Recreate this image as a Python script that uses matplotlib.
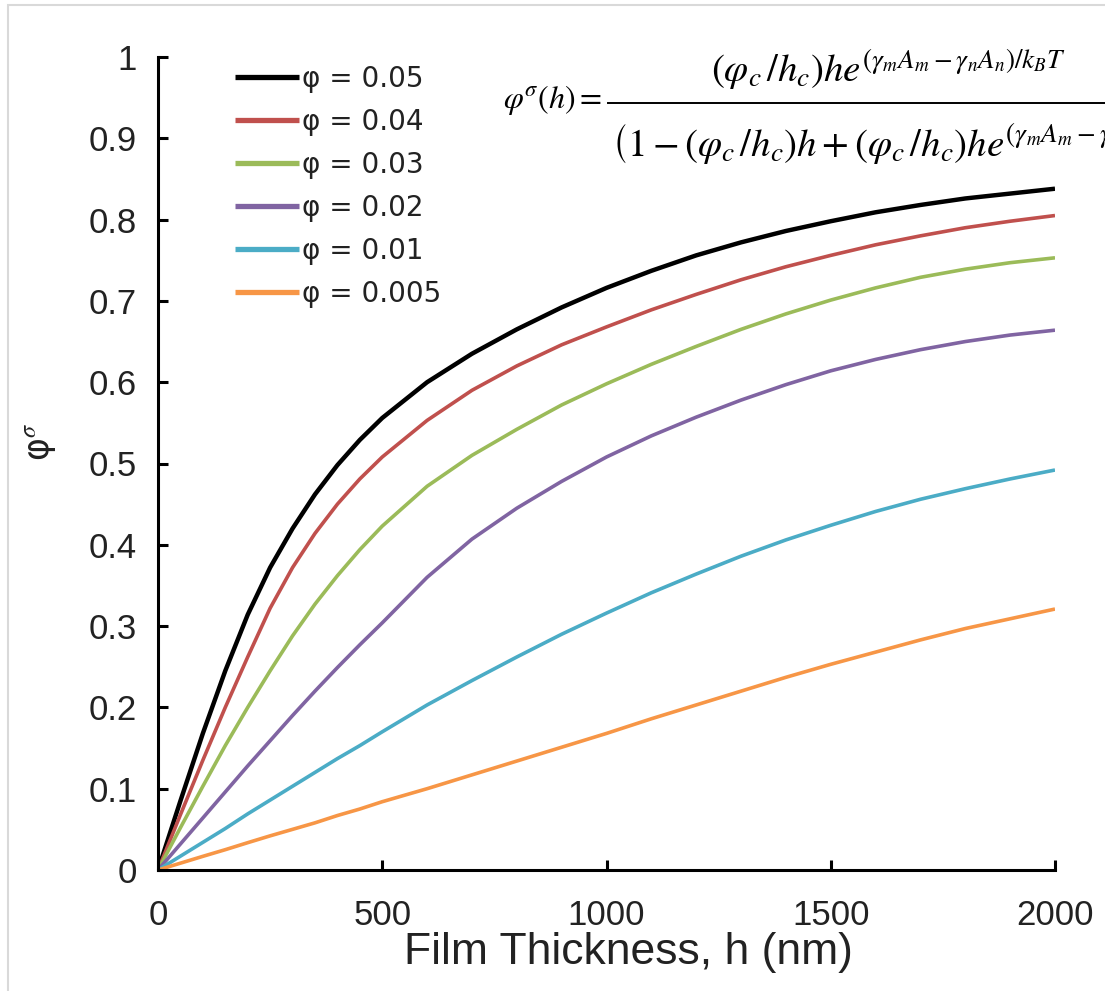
import matplotlib
matplotlib.use('Agg')
import matplotlib.pyplot as plt
from matplotlib.patches import Rectangle
from matplotlib.lines import Line2D

# ---- data ----
h = [0, 50, 100, 150, 200, 250, 300, 350, 400, 450, 500,
     600, 700, 800, 900, 1000, 1100, 1200, 1300, 1400, 1500, 1600, 1700, 1800, 1900, 2000]
phi_005 = [0, 0.085, 0.168, 0.245, 0.314, 0.372, 0.420, 0.462, 0.498, 0.529, 0.556,
           0.600, 0.635, 0.665, 0.692, 0.716, 0.737, 0.756, 0.772, 0.786, 0.798, 0.809, 0.818, 0.826, 0.832, 0.838]
phi_004 = [0, 0.068, 0.135, 0.200, 0.262, 0.322, 0.372, 0.414, 0.450, 0.481, 0.508,
           0.553, 0.590, 0.620, 0.646, 0.668, 0.689, 0.708, 0.726, 0.742, 0.756, 0.769, 0.780, 0.790, 0.798, 0.805]
phi_003 = [0, 0.052, 0.103, 0.153, 0.200, 0.245, 0.288, 0.327, 0.362, 0.394, 0.423,
           0.472, 0.510, 0.542, 0.572, 0.598, 0.622, 0.644, 0.665, 0.684, 0.701, 0.716, 0.729, 0.739, 0.747, 0.753]
phi_002 = [0, 0.032, 0.064, 0.096, 0.128, 0.159, 0.190, 0.220, 0.249, 0.277, 0.304,
           0.360, 0.407, 0.445, 0.478, 0.508, 0.534, 0.557, 0.578, 0.597, 0.614, 0.628, 0.640, 0.650, 0.658, 0.664]
phi_001 = [0, 0.017, 0.034, 0.051, 0.069, 0.086, 0.103, 0.120, 0.137, 0.153, 0.170,
           0.203, 0.233, 0.262, 0.290, 0.316, 0.341, 0.364, 0.386, 0.406, 0.424, 0.441, 0.456, 0.469, 0.481, 0.492]
phi_0005 = [0, 0.0084, 0.0168, 0.025, 0.0336, 0.042, 0.050, 0.058, 0.067, 0.075, 0.084,
            0.100, 0.117, 0.134, 0.151, 0.168, 0.186, 0.203, 0.220, 0.237, 0.253, 0.268, 0.283, 0.297, 0.309, 0.321]

series = [phi_005, phi_004, phi_003, phi_002, phi_001, phi_0005]
labels = ['φ = 0.05', 'φ = 0.04', 'φ = 0.03', 'φ = 0.02', 'φ = 0.01', 'φ = 0.005']
colors = ['#000000', '#C0504D', '#9BBB59', '#8064A2', '#4BACC6', '#F79646']
widths = [3.2, 2.6, 2.6, 2.6, 2.6, 2.6]

x_ticks = [0, 500, 1000, 1500, 2000]
y_ticks = [0, 0.1, 0.2, 0.3, 0.4, 0.5, 0.6, 0.7, 0.8, 0.9, 1.0]
y_ticklabels = ['0', '0.1', '0.2', '0.3', '0.4', '0.5', '0.6', '0.7', '0.8', '0.9', '1']

plt.rcParams['mathtext.fontset'] = 'stix'

W, H = 1105, 991
fig = plt.figure(figsize=(W / 100, H / 100), dpi=100)
fig.patch.set_facecolor('white')

# light chart-area border (Excel style)
fig.patches.append(Rectangle((8 / W, -0.05), 1.2, 1 - 5 / H + 0.05, transform=fig.transFigure,
                             fill=False, edgecolor='#D9D9D9', linewidth=1.5))

ax = fig.add_axes([158 / W, 1 - 870 / H, (1055 - 158) / W, (870 - 57) / H])

for ys, lab, c, lw in zip(series, labels, colors, widths):
    ax.plot(h, ys, color=c, lw=lw, label=lab, solid_capstyle='butt', solid_joinstyle='round')

ax.set_xlim(0, 2000)
ax.set_ylim(0, 1)
ax.set_xticks(x_ticks)
ax.set_yticks(y_ticks)
ax.set_yticklabels(y_ticklabels)

for s in ['top', 'right']:
    ax.spines[s].set_visible(False)
for s in ['left', 'bottom']:
    ax.spines[s].set_linewidth(2.2)
    ax.spines[s].set_color('black')

ax.tick_params(axis='both', direction='in', length=7, width=2.2, colors='black')
ax.tick_params(axis='y', pad=15)
ax.tick_params(axis='x', pad=21)
for t in ax.get_xticklabels() + ax.get_yticklabels():
    t.set_fontfamily('Liberation Sans')
    t.set_fontsize(25)
    t.set_color('#222222')

ax.set_xlabel('Film Thickness, h (nm)', fontfamily='Liberation Sans', fontsize=32, color='#222222')
ax.xaxis.set_label_coords((628 - 158) / 897, (870 - 932) / 813)
ax.xaxis.label.set_va('top')
ax.set_ylabel('φ$^{σ}$', fontfamily='DejaVu Sans', fontsize=25, color='#222222')
ax.yaxis.set_label_coords((58 - 158) / 897, (870 - 442) / 813)

leg = ax.legend(loc='upper left', bbox_to_anchor=(235 / W, 1 - 65 / H), bbox_transform=fig.transFigure,
                frameon=False, prop={'family': 'DejaVu Sans', 'size': 20},
                handlelength=2.3, handletextpad=0.1, labelspacing=0.54, borderpad=0, borderaxespad=0)
for line in leg.get_lines():
    line.set_linewidth(3.8)
for t in leg.get_texts():
    t.set_color('#222222')

# equation (cut at the right edge, as in the reference)
lhs = r'$\varphi^{\sigma}(h) =$'
num = r'$\left(\varphi_c\,/h_c\right) h e^{(\gamma_m A_m - \gamma_n A_n)/k_B T}$'
den = (r'$\left(1-\left(\varphi_c\,/h_c\right) h+\left(\varphi_c\,/h_c\right) h '
       r'e^{(\gamma_m A_m - \gamma_n A_n)/k_B T}\right)$')
fig.text(503 / W, 1 - 100 / H, lhs, fontsize=23, ha='left', va='center', color='black')
fig.text(888 / W, 1 - 70 / H, num, fontsize=28, ha='center', va='center', color='black')
fig.text(612 / W, 1 - 143 / H, den, fontsize=28, ha='left', va='center', color='black')
fig.lines.append(Line2D([608 / W, 1.05], [1 - 103 / H, 1 - 103 / H], transform=fig.transFigure,
                        color='black', linewidth=1.4))

fig.savefig('out.png', dpi=100, facecolor='white')
